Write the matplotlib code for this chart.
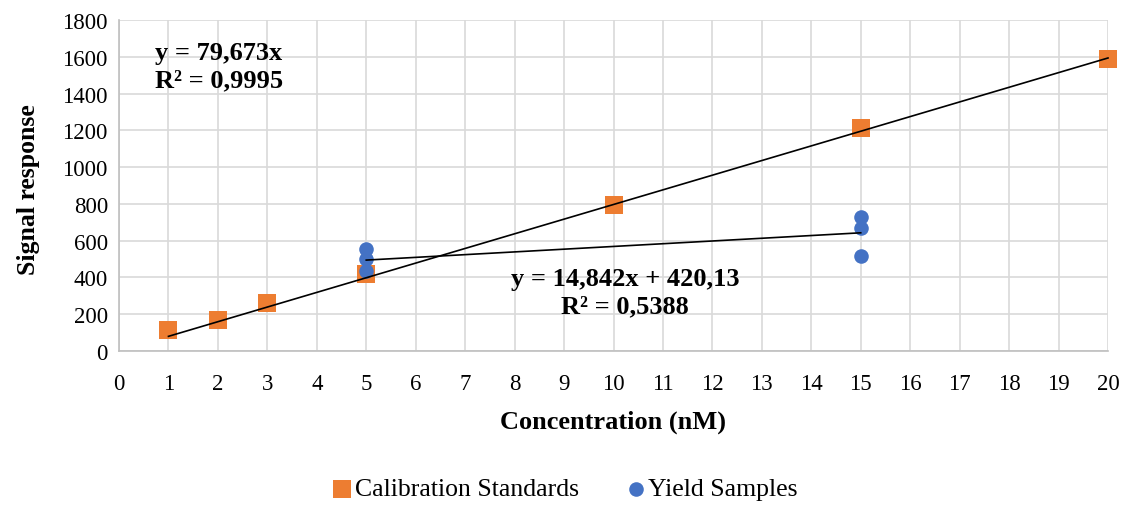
import matplotlib.pyplot as plt
import numpy as np

plt.rcParams['font.family'] = ['Liberation Serif', 'DejaVu Serif']

# calibration standards
cal_x = [1, 2, 3, 5, 10, 15, 20]
cal_y = [116, 169, 262, 420, 794, 1212, 1589]

# yield samples
yld_x = [5, 5, 5, 15, 15, 15]
yld_y = [555, 500, 435, 728, 670, 517]

cal_slope = 79.673
yld_slope, yld_icpt = 14.842, 420.13

fig = plt.figure(figsize=(11.27, 5.06), dpi=100)
ax = fig.add_axes([119 / 1127, 1 - 352 / 506, (1108 - 119) / 1127, (352 - 21) / 506])

ax.scatter(cal_x, cal_y, marker='s', s=160, color='#ED7D31', zorder=3,
           label='Calibration Standards', linewidths=0, clip_on=False)
ax.scatter(yld_x, yld_y, marker='o', s=110, color='#4472C4', zorder=4,
           label='Yield Samples', linewidths=0, clip_on=False)

xc = np.array([min(cal_x), max(cal_x)])
ax.plot(xc, cal_slope * xc, color='black', lw=1.2, zorder=5, clip_on=False)
xy = np.array([min(yld_x), max(yld_x)])
ax.plot(xy, yld_slope * xy + yld_icpt, color='black', lw=1.2, zorder=5)

ax.text(0.73, 1550, 'y = 79,673x\nR² = 0,9995', fontsize=19, fontweight='bold',
        ha='left', va='center', linespacing=1.25)
ax.text(10.23, 322, 'y = 14,842x + 420,13\nR² = 0,5388', fontsize=19, fontweight='bold',
        ha='center', va='center', linespacing=1.25, multialignment='center')

ax.set_xlim(0, 20)
ax.set_ylim(0, 1800)
ax.set_xticks(range(0, 21))
ax.set_yticks(range(0, 1801, 200))
ax.grid(True, color='#D9D9D9', lw=1.2)
ax.set_axisbelow(True)
for s in ['top', 'right']:
    ax.spines[s].set_visible(False)
for s in ['left', 'bottom']:
    ax.spines[s].set_color('#BFBFBF')
    ax.spines[s].set_linewidth(1.2)
ax.tick_params(length=0, labelsize=16.5)
ax.tick_params(axis='x', pad=16)
ax.tick_params(axis='y', pad=8)

ax.set_xlabel('Concentration (nM)', fontsize=19, fontweight='bold', va='center')
ax.xaxis.set_label_coords(0.5, -0.211)
ax.set_ylabel('Signal response', fontsize=18.5, fontweight='bold', va='center')
ax.yaxis.set_label_coords(-0.092, 0.49)

fig.legend(loc='center', bbox_to_anchor=(565 / 1127, 1 - 490 / 506), ncol=2,
           frameon=False, fontsize=18.5, handletextpad=0.1, columnspacing=1.8,
           handlelength=0.8, markerscale=1.0, scatterpoints=1)

fig.savefig('out.png', dpi=100)
